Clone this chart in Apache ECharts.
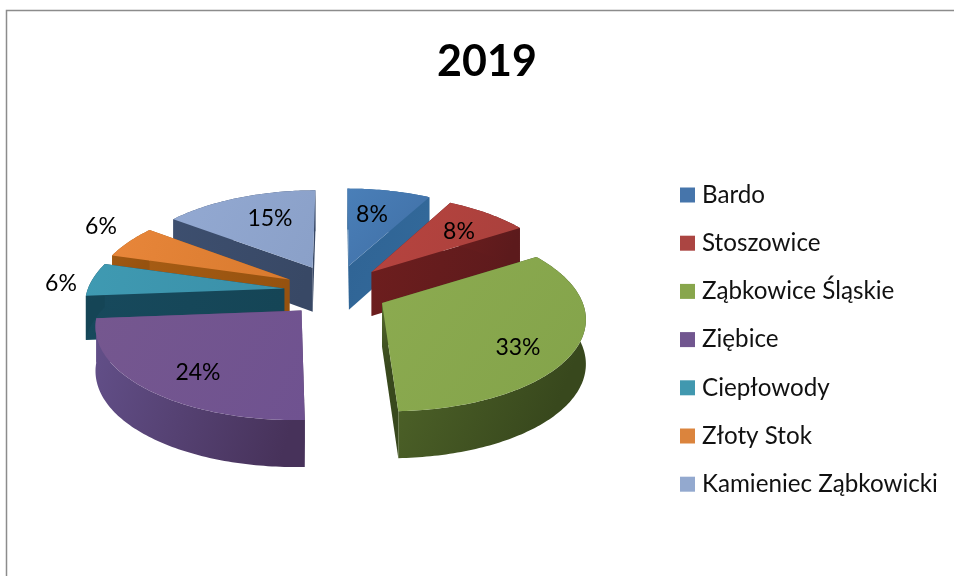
<!DOCTYPE html>
<html><head><meta charset="utf-8">
<style>html,body{margin:0;padding:0;background:#fff}#c{width:954px;height:576px}</style>
<script src="https://cdn.jsdelivr.net/npm/echarts@6/dist/echarts.min.js"></script>
</head><body><div id="c"></div>
<script>
const categories = ['Bardo','Stoszowice','Ząbkowice Śląskie','Ziębice','Ciepłowody','Złoty Stok','Kamieniec Ząbkowicki'];
const shares = [8,8,33.4,24.3,5.8,5.7,14.8];
const title = '2019';

const legendColors = ['#4675ab','#ab4542','#88a64c','#71568f','#4198af','#db843d','#93a9cf'];
const topColors = [['#4a7fb8','#3f6ea4'],['#b8443f','#a8403c'],['#8cab50','#83a34a'],['#75578f','#6f5290'],['#3f9ab2','#3a8fa8'],['#e8863a','#d87a2e'],['#93a9d2','#8aa0c8']];
const wallColors = [['#2f6394','#326899'],['#6e1e1e','#5c1a1c'],['#53692b','#38481d'],['#63508a','#47325a'],['#17495c','#154556'],['#a65c14','#96520f'],['#3d4f6f','#384865']];
const drawOrder = [0,6,5,4,1,3,2];
const labelSpots = [[372,215],[459,232],[518,348],[198,373],[61,284],[101,227],[270,219]];

const view = {cx:336, cy:291, ex:52, ey:26, rx:197, ry:91, u:0.14, h:44, hSlope:3, k:0.0015};
const total = shares.reduce((a,b)=>a+b,0);
const starts = []; shares.reduce((a,v,i)=>{starts[i]=a;return a+v;},0);

function project(deg, ax, ay, shift){
  const t = deg*Math.PI/180, X = Math.sin(t), Y = -Math.cos(t), f = 1/(1-view.u*(Y+shift));
  const sy = ay+view.ry*Y*f;
  const sx = ax+view.rx*X*f+(ax-view.cx)*view.k*(sy-ay);
  return [sx, sy, view.h+view.hSlope*Y];
}
function makeRender(i){
  return function(params, api){
    const v = api.value(0);
    const a0 = starts[i]/total*360, a1 = a0+v/total*360, mid = (a0+a1)/2*Math.PI/180;
    const ax = view.cx+view.ex*Math.sin(mid), ay = view.cy-view.ey*Math.cos(mid);
    const shift = -Math.cos(mid)*view.ey/view.ry;
    const n = Math.max(4, Math.ceil(a1-a0));
    const rim = [];
    for(let k=0;k<=n;k++) rim.push(project(a0+(a1-a0)*k/n,ax,ay,shift));
    const pts = p=>[p[0],p[1]];
    const low = p=>[p[0],p[1]+p[2]];
    const apexLow = [ax,ay+view.h];
    const grad = (c,x2,y2)=>({type:'linear',x:0,y:0,x2:x2,y2:y2,colorStops:[{offset:0,color:c[0]},{offset:1,color:c[1]}]});
    const wall = {fill:grad(wallColors[i],1,0.4)};
    const children = [];
    const poly = (points,style)=>children.push({type:'polygon',shape:{points:points},style:style});
    poly([[ax,ay],pts(rim[0]),low(rim[0]),apexLow],wall);
    poly([[ax,ay],pts(rim[n]),low(rim[n]),apexLow],wall);
    poly(rim.map(pts).concat(rim.slice().reverse().map(low)),wall);
    poly([[ax,ay]].concat(rim.map(pts)),{fill:grad(topColors[i],1,1)});
    children.push({type:'text',style:{text:Math.round(v/total*100)+'%',x:labelSpots[i][0],y:labelSpots[i][1],
      align:'center',verticalAlign:'middle',fill:'#000',font:'23px Lato'}});
    return {type:'group',children:children};
  };
}
const chart = echarts.init(document.getElementById('c'),null,{renderer:'canvas'});
chart.setOption({
  animation:false,
  backgroundColor:'#fff',
  title:{text:title,left:482,top:36,textAlign:'center',textStyle:{fontFamily:'Lato',fontWeight:'bold',fontSize:43,color:'#000'}},
  legend:{orient:'vertical',left:680,top:183,padding:0,data:categories,icon:'rect',itemWidth:15,itemHeight:15,itemGap:24.2,
    textStyle:{fontFamily:'Lato',fontSize:24.2,color:'#111',padding:[0,0,0,2],lineHeight:24},selectedMode:false},
  graphic:[{type:'polyline',silent:true,shape:{points:[[6.5,576],[6.5,10.5],[954,10.5]]},style:{stroke:'#8c8c8c',lineWidth:1.5,fill:null}}],
  series:categories.map((name,i)=>({
    type:'custom',name:name,coordinateSystem:'none',silent:true,
    z:2+drawOrder.indexOf(i),itemStyle:{color:legendColors[i]},
    renderItem:makeRender(i),data:[[shares[i]]]
  }))
});
</script></body></html>
